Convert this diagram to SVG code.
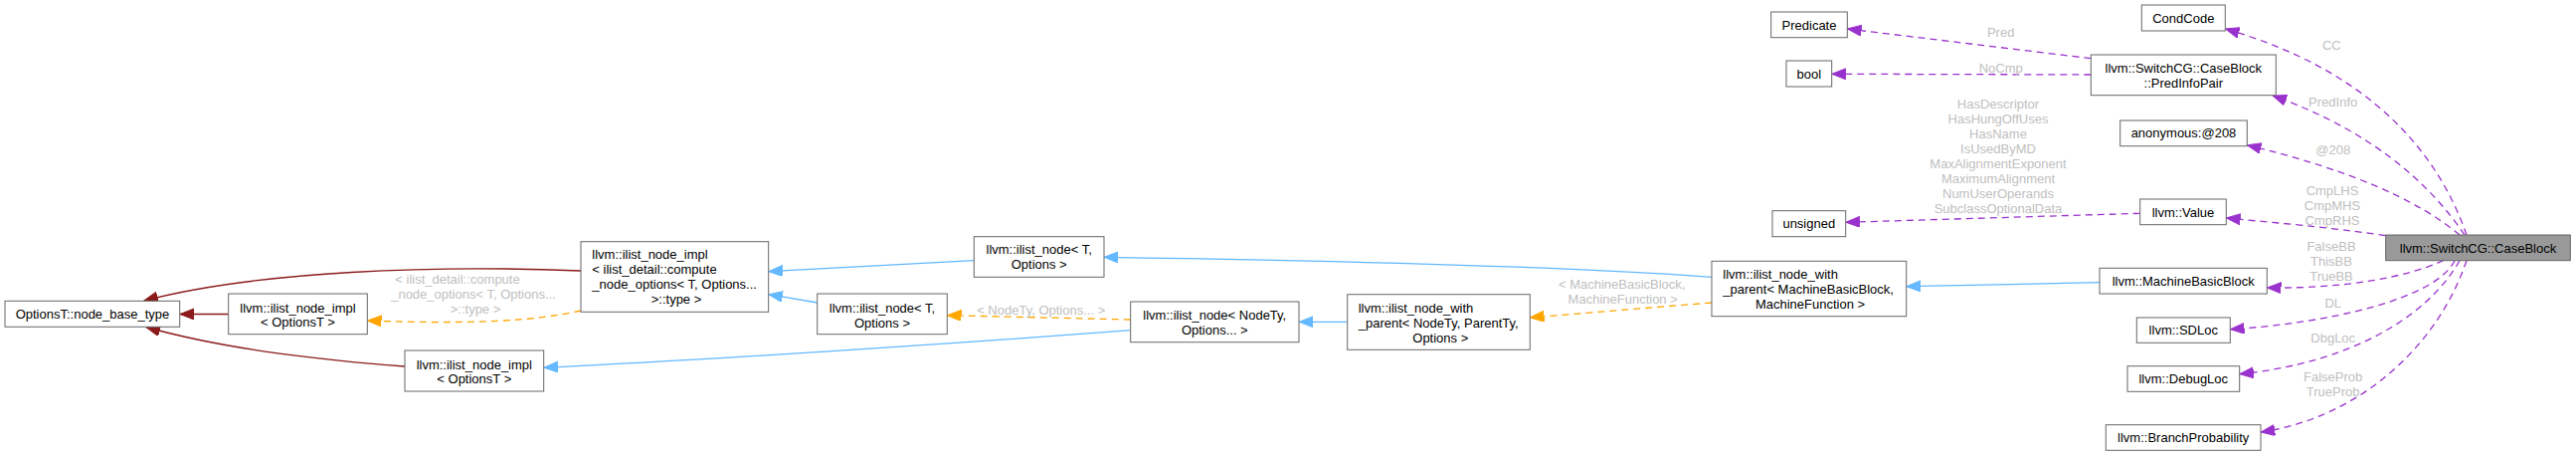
<svg xmlns="http://www.w3.org/2000/svg" width="2590" height="458" viewBox="0 0 2590 458">
<style>
.n rect{fill:#ffffff;stroke:#666666;stroke-width:1}
.n text{font-family:"Liberation Sans",Arial,sans-serif;font-size:13px;fill:#000000}
.c{text-anchor:middle}
.hl rect{fill:#999999}
.e path{fill:none;stroke-width:1.3}
.red{stroke:#8b1a1a}
.blue{stroke:#63b8ff}
.orng{stroke:#ffa500;stroke-dasharray:7,5}
.purp{stroke:#9a32cd;stroke-dasharray:7,5}
.lbl text{font-family:"Liberation Sans",Arial,sans-serif;font-size:13px;fill:#c0c0c0;text-anchor:middle}
</style>
<defs>
<marker id="aRed" markerUnits="userSpaceOnUse" markerWidth="16" markerHeight="12" refX="14" refY="5.5" orient="auto"><path d="M0,0 L14,5.5 L0,11 z" fill="#8b1a1a" stroke="#8b1a1a" stroke-width="1"/></marker>
<marker id="aBlue" markerUnits="userSpaceOnUse" markerWidth="16" markerHeight="12" refX="14" refY="5.5" orient="auto"><path d="M0,0 L14,5.5 L0,11 z" fill="#63b8ff" stroke="#63b8ff" stroke-width="1"/></marker>
<marker id="aOrng" markerUnits="userSpaceOnUse" markerWidth="16" markerHeight="12" refX="14" refY="5.5" orient="auto"><path d="M0,0 L14,5.5 L0,11 z" fill="#ffa500" stroke="#ffa500" stroke-width="1"/></marker>
<marker id="aPurp" markerUnits="userSpaceOnUse" markerWidth="16" markerHeight="12" refX="14" refY="5.5" orient="auto"><path d="M0,0 L14,5.5 L0,11 z" fill="#9a32cd" stroke="#9a32cd" stroke-width="1"/></marker>
</defs>
<rect x="0" y="0" width="2590" height="458" fill="#ffffff"/>

<g id="connectors" class="e">
<path class="red" d="M584,272 C440,266 260,272 145,302" marker-end="url(#aRed)"/>
<path class="red" d="M229.7,315.5 L181,315.5" marker-end="url(#aRed)"/>
<path class="red" d="M407,368 C330,362 230,352 147,328.5" marker-end="url(#aRed)"/>
<path class="orng" d="M584,312 C540,322 480,326 369.5,322" marker-end="url(#aOrng)"/>
<path class="blue" d="M979.3,261.7 L772.9,272.7" marker-end="url(#aBlue)"/>
<path class="blue" d="M821.7,304 L772.9,295.7" marker-end="url(#aBlue)"/>
<path class="blue" d="M1136.7,331.7 C950,346 700,362 546.9,369.3" marker-end="url(#aBlue)"/>
<path class="orng" d="M1136.7,321 L952.5,316.7" marker-end="url(#aOrng)"/>
<path class="blue" d="M1354.7,323.3 L1306.2,323.3" marker-end="url(#aBlue)"/>
<path class="orng" d="M1721,304 L1538.5,319" marker-end="url(#aOrng)"/>
<path class="blue" d="M1721,278.3 C1550,266 1300,261 1110.2,258.3" marker-end="url(#aBlue)"/>
<path class="blue" d="M2111,283.7 L1916.9,287.7" marker-end="url(#aBlue)"/>
<path class="purp" d="M2102.3,58.7 L1857.5,29" marker-end="url(#aPurp)"/>
<path class="purp" d="M2102.3,75 L1841.9,74.3" marker-end="url(#aPurp)"/>
<path class="purp" d="M2151.7,214.3 L1855.9,223.3" marker-end="url(#aPurp)"/>
<path class="purp" d="M2480,236 C2450,150 2380,70 2237.5,29" marker-end="url(#aPurp)"/>
<path class="purp" d="M2478,236 C2440,180 2380,130 2285,96" marker-end="url(#aPurp)"/>
<path class="purp" d="M2473,236 C2430,200 2360,170 2259.5,145.7" marker-end="url(#aPurp)"/>
<path class="purp" d="M2398.7,236.7 C2340,228 2290,224 2238.5,219" marker-end="url(#aPurp)"/>
<path class="purp" d="M2456.7,261.7 C2420,278 2360,290 2279.5,289" marker-end="url(#aPurp)"/>
<path class="purp" d="M2468,261.7 C2450,300 2340,325 2242.5,330.7" marker-end="url(#aPurp)"/>
<path class="purp" d="M2473,261.7 C2440,320 2360,365 2251.9,375.7" marker-end="url(#aPurp)"/>
<path class="purp" d="M2480,261.7 C2450,350 2370,420 2273.2,434" marker-end="url(#aPurp)"/>
</g>

<g id="edge-labels" class="lbl">
<text x="460" y="285.2">&lt; ilist_detail::compute</text>
<text x="476" y="300.2">_node_options&lt; T, Options...</text>
<text x="478" y="315.2">&gt;::type &gt;</text>
<text x="1046.7" y="315.5">&lt; NodeTy, Options... &gt;</text>
<text x="1630.7" y="290.2">&lt; MachineBasicBlock,</text>
<text x="1631.7" y="305.2">MachineFunction &gt;</text>
<text x="2011.7" y="36.8">Pred</text>
<text x="2011.7" y="73.2">NoCmp</text>
<text x="2009" y="108.8">HasDescriptor</text>
<text x="2009" y="123.8">HasHungOffUses</text>
<text x="2009" y="138.8">HasName</text>
<text x="2009" y="153.8">IsUsedByMD</text>
<text x="2009" y="168.8">MaxAlignmentExponent</text>
<text x="2009" y="183.8">MaximumAlignment</text>
<text x="2009" y="198.8">NumUserOperands</text>
<text x="2009" y="213.8">SubclassOptionalData</text>
<text x="2344.3" y="49.5">CC</text>
<text x="2345.7" y="106.8">PredInfo</text>
<text x="2345.7" y="155.2">@208</text>
<text x="2345" y="196.2">CmpLHS</text>
<text x="2345" y="211.2">CmpMHS</text>
<text x="2345" y="226.2">CmpRHS</text>
<text x="2344" y="252.2">FalseBB</text>
<text x="2344" y="267.2">ThisBB</text>
<text x="2344" y="282.2">TrueBB</text>
<text x="2345.7" y="308.8">DL</text>
<text x="2345.7" y="343.5">DbgLoc</text>
<text x="2345.7" y="382.8">FalseProb</text>
<text x="2345.7" y="397.8">TrueProb</text>
</g>

<g id="node-options-base" class="n">
<rect x="5" y="302.3" width="175.7" height="26"/>
<text class="c" x="93" y="320">OptionsT::node_base_type</text>
</g>
<g id="node-impl-optionsT-1" class="n">
<rect x="229.7" y="295" width="139.6" height="40.7"/>
<text class="c" x="299.5" y="313.5">llvm::ilist_node_impl</text>
<text class="c" x="299.5" y="328.2">&lt; OptionsT &gt;</text>
</g>
<g id="node-impl-optionsT-2" class="n">
<rect x="407" y="352" width="139.7" height="41"/>
<text class="c" x="476.8" y="370.5">llvm::ilist_node_impl</text>
<text class="c" x="476.8" y="385.2">&lt; OptionsT &gt;</text>
</g>
<g id="node-impl-compute" class="n">
<rect x="584" y="242.7" width="188.7" height="70.6"/>
<text x="595.3" y="260.2">llvm::ilist_node_impl</text>
<text x="595.3" y="275.2">&lt; ilist_detail::compute</text>
<text x="595.3" y="290.2">_node_options&lt; T, Options...</text>
<text class="c" x="680" y="305.2">&gt;::type &gt;</text>
</g>
<g id="node-ilist-node-T-1" class="n">
<rect x="979.3" y="237.7" width="130.7" height="40.6"/>
<text class="c" x="1044.7" y="255.2">llvm::ilist_node&lt; T,</text>
<text class="c" x="1044.7" y="270.2">Options &gt;</text>
</g>
<g id="node-ilist-node-T-2" class="n">
<rect x="821.7" y="295" width="130.6" height="40.7"/>
<text class="c" x="887" y="313.5">llvm::ilist_node&lt; T,</text>
<text class="c" x="887" y="328.5">Options &gt;</text>
</g>
<g id="node-ilist-node-NodeTy" class="n">
<rect x="1136.7" y="303" width="169.3" height="40.7"/>
<text class="c" x="1221.3" y="321.2">llvm::ilist_node&lt; NodeTy,</text>
<text class="c" x="1221.3" y="336.2">Options... &gt;</text>
</g>
<g id="node-with-parent-generic" class="n">
<rect x="1354.7" y="295.7" width="183.6" height="55.6"/>
<text x="1365.7" y="313.5">llvm::ilist_node_with</text>
<text x="1365.7" y="328.5">_parent&lt; NodeTy, ParentTy,</text>
<text class="c" x="1448.3" y="343.5">Options &gt;</text>
</g>
<g id="node-with-parent-mbb" class="n">
<rect x="1721" y="262.3" width="195.7" height="55.4"/>
<text x="1732.3" y="280.2">llvm::ilist_node_with</text>
<text x="1732.3" y="295.2">_parent&lt; MachineBasicBlock,</text>
<text class="c" x="1820" y="310.2">MachineFunction &gt;</text>
</g>
<g id="node-predicate" class="n">
<rect x="1780.7" y="12" width="76.6" height="25.7"/>
<text class="c" x="1819" y="29.8">Predicate</text>
</g>
<g id="node-bool" class="n">
<rect x="1796" y="61" width="45.7" height="26"/>
<text class="c" x="1818.8" y="78.5">bool</text>
</g>
<g id="node-unsigned" class="n">
<rect x="1782" y="211.7" width="73.7" height="26"/>
<text class="c" x="1818.8" y="229.2">unsigned</text>
</g>
<g id="node-condcode" class="n">
<rect x="2153.3" y="5" width="84" height="26"/>
<text class="c" x="2195.3" y="22.5">CondCode</text>
</g>
<g id="node-predinfopair" class="n">
<rect x="2102.3" y="55" width="186" height="40.7"/>
<text class="c" x="2195.3" y="72.8">llvm::SwitchCG::CaseBlock</text>
<text class="c" x="2195.3" y="87.8">::PredInfoPair</text>
</g>
<g id="node-anon208" class="n">
<rect x="2131.7" y="121" width="127.6" height="25.7"/>
<text class="c" x="2195.5" y="138.3">anonymous:@208</text>
</g>
<g id="node-value" class="n">
<rect x="2151.7" y="200" width="86.6" height="25.7"/>
<text class="c" x="2195" y="217.8">llvm::Value</text>
</g>
<g id="node-mbb" class="n">
<rect x="2111" y="269.3" width="168.3" height="25.7"/>
<text class="c" x="2195.2" y="286.6">llvm::MachineBasicBlock</text>
</g>
<g id="node-sdloc" class="n">
<rect x="2148.3" y="319" width="94" height="25.3"/>
<text class="c" x="2195.3" y="336.2">llvm::SDLoc</text>
</g>
<g id="node-debugloc" class="n">
<rect x="2139" y="367.7" width="112.7" height="25.6"/>
<text class="c" x="2195.3" y="385">llvm::DebugLoc</text>
</g>
<g id="node-branchprob" class="n">
<rect x="2117.3" y="426.7" width="155.7" height="25.6"/>
<text class="c" x="2195.2" y="444">llvm::BranchProbability</text>
</g>
<g id="node-caseblock" class="n hl">
<rect x="2398.7" y="236" width="185.6" height="25.7"/>
<text class="c" x="2491.5" y="253.5">llvm::SwitchCG::CaseBlock</text>
</g>
</svg>
